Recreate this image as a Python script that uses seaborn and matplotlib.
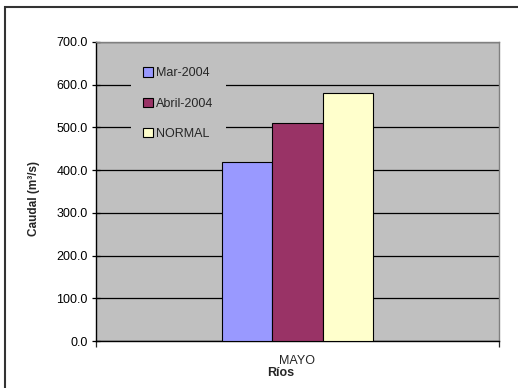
import numpy as np
import pandas as pd
import seaborn as sns
from matplotlib import pyplot as plt
from matplotlib.patches import Rectangle

# data
rivers = ["MAYO"]
periods = ["Mar-2004", "Abril-2004", "NORMAL"]
caudal = [420.0, 510.0, 580.0]
colors = ["#9999FF", "#993366", "#FFFFCC"]
yticks = [0, 100, 200, 300, 400, 500, 600, 700]


def main():
    df = pd.DataFrame({
        "Rio": rivers * len(periods),
        "Periodo": periods,
        "Caudal": caudal,
    })

    sns.set_style("white")
    plt.rcParams["font.family"] = ["Liberation Sans", "DejaVu Sans"]

    fig = plt.figure(figsize=(5.18, 3.88), dpi=100)
    ax = fig.add_axes([96 / 518, 1 - 341 / 388, 403 / 518, 299 / 388])
    ax.set_facecolor("#C0C0C0")

    sns.barplot(data=df, x="Rio", y="Caudal", hue="Periodo", hue_order=periods,
                palette=colors, width=0.375, edgecolor="black", linewidth=0.8,
                saturation=1, ax=ax, legend=False, zorder=3)

    ax.set_ylim(0, 700)
    ax.set_xlim(-0.5, 0.5)
    ax.set_yticks(yticks)
    ax.set_yticklabels(["{:.1f}".format(v) for v in yticks])
    ax.yaxis.grid(True, color="black", linewidth=0.9, zorder=0)
    ax.set_axisbelow(True)

    # ticks
    ax.tick_params(axis="y", which="major", direction="inout", length=6,
                   width=0.9, labelsize=9, pad=3, left=True, colors="black")
    ax.set_xticks([0])
    ax.set_xticks([-0.5, 0.5], minor=True)
    ax.tick_params(axis="x", which="major", length=0, labelsize=9, pad=10)
    ax.tick_params(axis="x", which="minor", direction="out", length=4,
                   width=0.9, bottom=True)

    for side in ["left", "bottom"]:
        ax.spines[side].set_color("black")
        ax.spines[side].set_linewidth(1.0)
    for side in ["top", "right"]:
        ax.spines[side].set_color("#808080")
        ax.spines[side].set_linewidth(1.0)

    ax.set_ylabel("Caudal (m³/s)", fontsize=8.5, fontweight="bold")
    ax.yaxis.set_label_coords((40 - 96) / 403, 0.475)
    ax.set_xlabel("Ríos", fontsize=9, fontweight="bold")
    ax.xaxis.set_label_coords((281 - 96) / 403, -0.088)

    handles = [Rectangle((0, 0), 1, 1, facecolor=c, edgecolor="black", linewidth=0.8)
               for c in colors]
    leg = ax.legend(handles, periods, loc="upper left", bbox_to_anchor=(0.0707, 0.978),
                    fontsize=9, frameon=True, facecolor="#C0C0C0", edgecolor="none",
                    framealpha=1, fancybox=False, handlelength=0.8, handleheight=0.8,
                    handletextpad=0.25, labelspacing=1.45, borderpad=1.0)
    leg.set_zorder(4)

    # outer chart frame (cropped at right and bottom)
    fig.add_artist(Rectangle((5 / 518, -0.1), 1.2, 1 - 6.5 / 388 + 0.1,
                             transform=fig.transFigure, fill=False,
                             edgecolor="#333333", linewidth=1.5))

    fig.savefig("out.png", dpi=100)


if __name__ == '__main__':
    main()
